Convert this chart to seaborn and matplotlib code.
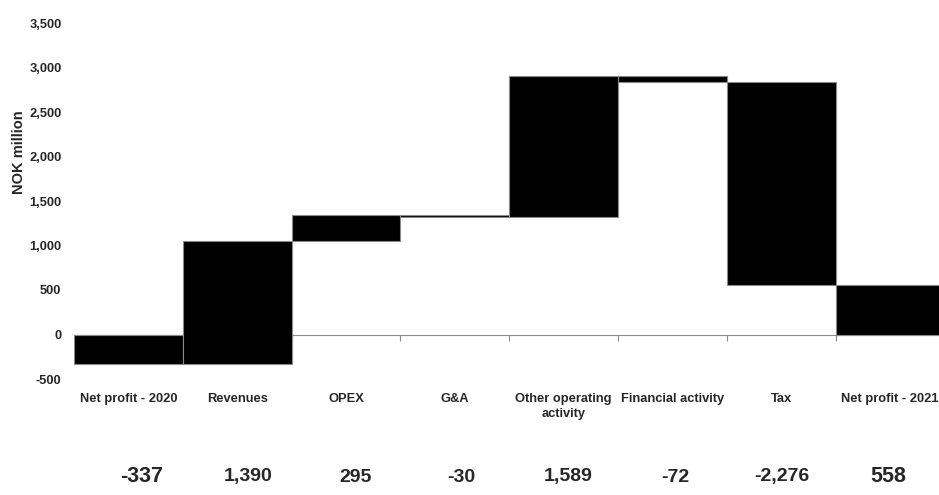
import numpy as np
import pandas as pd
import matplotlib
matplotlib.use("Agg")
import matplotlib.pyplot as plt
import seaborn as sns

categories = ["Net profit - 2020", "Revenues", "OPEX", "G&A",
              "Other operating\nactivity", "Financial activity", "Tax",
              "Net profit - 2021"]
changes = [-337, 1390, 295, -30, 1589, -72, -2276, 558]
value_labels = ["-337", "1,390", "295", "-30", "1,589", "-72", "-2,276", "558"]
yticks = [-500, 0, 500, 1000, 1500, 2000, 2500, 3000, 3500]
ytick_labels = ["-500", "0", "500", "1,000", "1,500", "2,000", "2,500", "3,000", "3,500"]

# waterfall: first and last bars start at zero, the rest float on the running total
vals = np.array(changes, dtype=float)
bottoms = np.concatenate([[0.0], np.cumsum(vals)[:-1]])
bottoms[-1] = 0.0

df = pd.DataFrame({"category": categories, "height": vals})

sns.set_theme(style="white")
plt.rcParams["font.family"] = ["Liberation Sans", "DejaVu Sans"]
plt.rcParams["font.weight"] = "bold"

W, H = 939, 495
fig = plt.figure(figsize=(W / 100, H / 100), dpi=100)
left_px, right_px, top_px, bot_px = 74, 944.4, 23, 379
ax = fig.add_axes([left_px / W, (H - bot_px) / H, (right_px - left_px) / W, (bot_px - top_px) / H])

sns.barplot(data=df, x="category", y="height", order=categories, ax=ax,
            color="black", saturation=1, width=1.0, bottom=bottoms,
            edgecolor="#8a8a8a", linewidth=0.8)

ax.set_xlim(-0.5, len(categories) - 0.5)
ax.set_ylim(-500, 3500)
ax.set_yticks(yticks)
ax.set_yticklabels(ytick_labels, fontsize=9.3, fontweight="bold")
ax.tick_params(axis="y", length=0, pad=9)

for s in ["left", "right", "top"]:
    ax.spines[s].set_visible(False)
ax.spines["bottom"].set_position(("data", 0))
ax.spines["bottom"].set_color("#8a8a8a")
ax.spines["bottom"].set_linewidth(0.8)
ax.spines["bottom"].set_zorder(0.5)

ax.set_xticks(range(len(categories)))
ax.set_xticklabels(categories, fontsize=9.3, fontweight="bold", linespacing=1.35)
ax.tick_params(axis="x", which="major", bottom=True, length=0, pad=42)
ax.set_xticks(np.arange(0.5, len(categories) - 0.5, 1.0), minor=True)
ax.tick_params(axis="x", which="minor", bottom=True, length=4, width=0.8,
               color="#8a8a8a", direction="out")

ax.set_xlabel("")
ax.set_ylabel("")
fig.text(19 / W, (H - 152) / H, "NOK million", rotation=90, ha="center", va="center",
         fontsize=10.5, fontweight="bold")

# value row below the chart
for i, lab in enumerate(value_labels):
    big = i in (0, len(value_labels) - 1)
    fig.text((142 + 106.6 * i) / W, (H - 477) / H, lab, ha="center", va="center",
             fontsize=15.5 if big else 14, fontweight="bold")

fig.savefig("out.png", dpi=100)
